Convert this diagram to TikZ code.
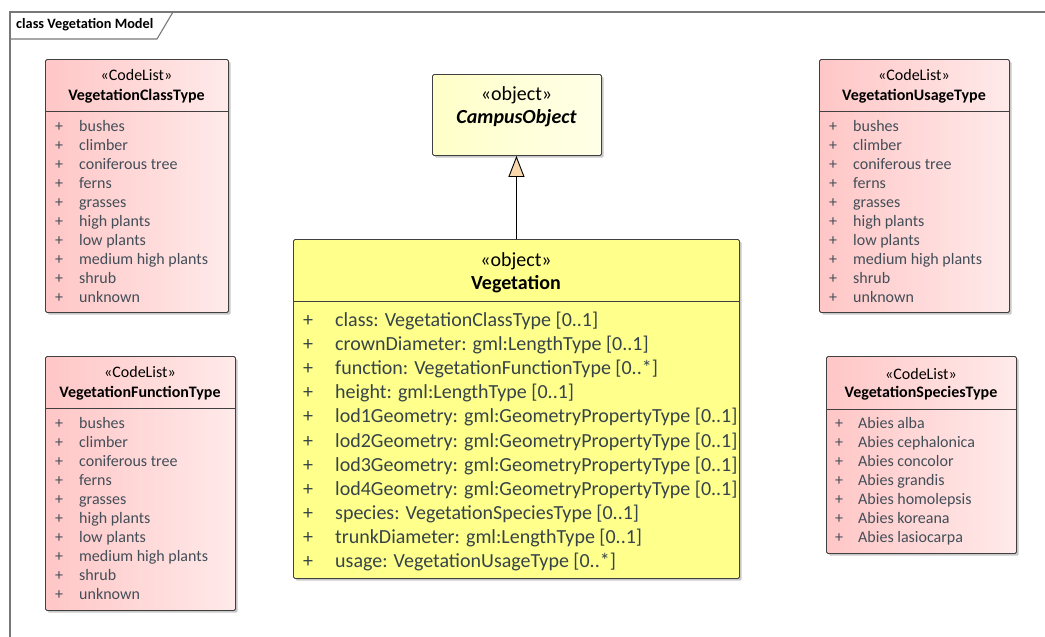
\documentclass[tikz,border=0pt]{standalone}
\usepackage{fontspec}
\setmainfont{Carlito}
\usetikzlibrary{shadows,arrows.meta}

\definecolor{pinkL}{RGB}{255,198,198}
\definecolor{pinkR}{RGB}{255,234,234}
\definecolor{yelL}{RGB}{255,255,200}
\definecolor{yelR}{RGB}{255,255,232}
\definecolor{vegfill}{RGB}{255,255,140}
\definecolor{boxline}{RGB}{64,64,64}
\definecolor{framecol}{RGB}{120,120,120}
\definecolor{itemcol}{RGB}{66,78,88}
\definecolor{attrcol}{RGB}{54,68,74}
\definecolor{tipfill}{RGB}{248,216,172}

\tikzset{
  classbox/.style={draw=boxline, line width=0.9pt, rounded corners=1.5pt,
    anchor=north west, inner sep=0pt,
    drop shadow={shadow xshift=2.2pt, shadow yshift=-2.2pt, fill=black, opacity=0.22}},
  codelist/.style={classbox, left color=pinkL, right color=pinkR},
  objbox/.style={classbox, left color=yelL, right color=yelR},
  vegbox/.style={classbox, fill=vegfill},
  divider/.style={draw=boxline, line width=0.9pt},
  smallstereo/.style={font=\fontsize{16}{18}\selectfont, inner sep=0pt},
  smallname/.style={font=\fontsize{16}{18}\selectfont\bfseries, inner sep=0pt},
  bigstereo/.style={font=\fontsize{20}{22}\selectfont, inner sep=0pt},
  bigname/.style={font=\fontsize{20}{22}\selectfont\bfseries, inner sep=0pt},
  smallitem/.style={font=\fontsize{16}{18}\selectfont, text=itemcol, anchor=west,
    inner sep=0pt, text height=12pt, text depth=3pt},
  bigitem/.style={font=\fontsize{20}{22}\selectfont, text=attrcol, anchor=west,
    inner sep=0pt, text height=15pt, text depth=4pt},
  framelabel/.style={font=\fontsize{14.3}{16}\selectfont\bfseries, anchor=west, inner sep=0pt},
}

% code list entries: name prefix, x of "+", x of text, y of first row, step, style, entries
\newcommand\entrylist[7]{%
  \foreach \t [count=\i, evaluate=\i as \yy using {#4+#5*(\i-1)}] in {#7} {
    \node[#6] (#1p\i) at (#2,\yy) {+};
    \node[#6] (#1t\i) at (#3,\yy) {\t};
  }}

\begin{document}
\begin{tikzpicture}[x=1pt,y=-1pt]
\useasboundingbox (0,0) rectangle (1045,637);
\clip (0,0) rectangle (1045,637);

% diagram frame with its name tab
\draw[framecol, line width=1.1pt] (10,660) -- (10,12) -- (1060,12);
\draw[framecol, line width=1.1pt] (10,39) -- (157,39) -- (173,12);
\node[framelabel] (frametitle) at (16,25) {class Vegetation Model};

% ---- VegetationClassType
\node[codelist, minimum width=183pt, minimum height=253pt] (vct) at (45,59) {};
\node[smallstereo] (vcts) at (136.5,75) {«CodeList»};
\node[smallname] (vctn) at (136.5,96) {VegetationClassType};
\path (vct.north west) ++(0,52) coordinate (vctd);
\draw[divider] (vctd) -- (vctd -| vct.east);
\entrylist{vct}{55}{79}{127}{19}{smallitem}{bushes,climber,coniferous tree,ferns,grasses,high plants,low plants,medium high plants,shrub,unknown}

% ---- VegetationFunctionType
\node[codelist, minimum width=190pt, minimum height=254pt] (vft) at (45,356) {};
\node[smallstereo] (vfts) at (140,372) {«CodeList»};
\node[smallname] (vftn) at (140,393) {VegetationFunctionType};
\path (vft.north west) ++(0,52) coordinate (vftd);
\draw[divider] (vftd) -- (vftd -| vft.east);
\entrylist{vft}{55}{79}{424}{19}{smallitem}{bushes,climber,coniferous tree,ferns,grasses,high plants,low plants,medium high plants,shrub,unknown}

% ---- VegetationUsageType
\node[codelist, minimum width=190pt, minimum height=253pt] (vut) at (819,59) {};
\node[smallstereo] (vuts) at (914,75) {«CodeList»};
\node[smallname] (vutn) at (914,96) {VegetationUsageType};
\path (vut.north west) ++(0,52) coordinate (vutd);
\draw[divider] (vutd) -- (vutd -| vut.east);
\entrylist{vut}{829}{853}{127}{19}{smallitem}{bushes,climber,coniferous tree,ferns,grasses,high plants,low plants,medium high plants,shrub,unknown}

% ---- VegetationSpeciesType
\node[codelist, minimum width=190pt, minimum height=197pt] (vst) at (826,356) {};
\node[smallstereo] (vsts) at (921,374) {«CodeList»};
\node[smallname] (vstn) at (921,393) {VegetationSpeciesType};
\path (vst.north west) ++(0,53) coordinate (vstd);
\draw[divider] (vstd) -- (vstd -| vst.east);
\entrylist{vst}{835}{858}{424}{19}{smallitem}{Abies alba,Abies cephalonica,Abies concolor,Abies grandis,Abies homolepsis,Abies koreana,Abies lasiocarpa}

% ---- CampusObject
\node[objbox, minimum width=169pt, minimum height=81pt] (campus) at (432,74) {};
\node[bigstereo] (campuss) at (516.5,95) {«object»};
\node[bigname, font=\fontsize{20}{22}\selectfont\bfseries\itshape] (campusn) at (516.5,118) {CampusObject};

% ---- Vegetation
\node[vegbox, minimum width=446pt, minimum height=339pt] (veg) at (293,239) {};
\node[bigstereo] (vegs) at (516,261) {«object»};
\node[bigname] (vegn) at (516,284) {Vegetation};
\path (veg.north west) ++(0,62) coordinate (vegd);
\draw[divider] (vegd) -- (vegd -| veg.east);
\entrylist{veg}{303}{335}{321}{24.1}{bigitem}{class: VegetationClassType [0..1],crownDiameter: gml:LengthType [0..1],function: VegetationFunctionType [0..*],height: gml:LengthType [0..1],lod1Geometry: gml:GeometryPropertyType [0..1],lod2Geometry: gml:GeometryPropertyType [0..1],lod3Geometry: gml:GeometryPropertyType [0..1],lod4Geometry: gml:GeometryPropertyType [0..1],species: VegetationSpeciesType [0..1],trunkDiameter: gml:LengthType [0..1],usage: VegetationUsageType [0..*]}

% generalization
\draw[line width=0.9pt, -{Triangle[width=16pt,length=21pt,fill=tipfill]}]
  (veg.north) -- (veg.north |- campus.south);
\end{tikzpicture}
\end{document}
